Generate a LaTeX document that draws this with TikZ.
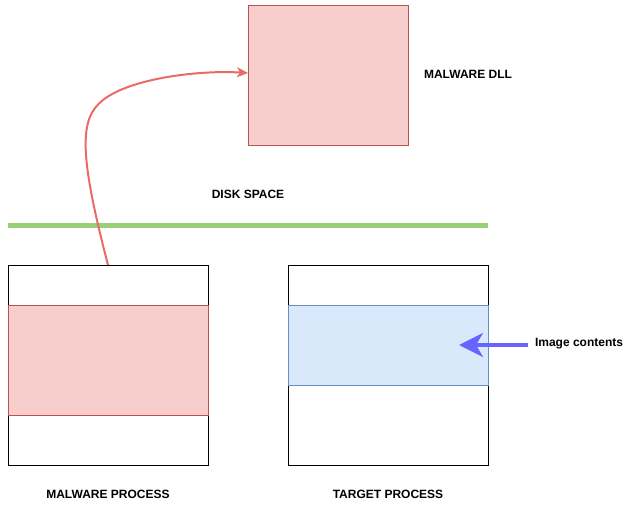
\documentclass[tikz,border=0pt]{standalone}
\usepackage{fontspec}
\setmainfont{Liberation Sans}
\usepackage{xcolor}
\usetikzlibrary{arrows.meta}
\definecolor{dllfill}{HTML}{F8CECC}
\definecolor{dlldraw}{HTML}{B85450}
\definecolor{diskline}{HTML}{97D077}
\definecolor{imgfill}{HTML}{DAE8FC}
\definecolor{imgdraw}{HTML}{6C8EBF}
\definecolor{imgarrow}{HTML}{6666FF}
\definecolor{loadline}{HTML}{EA6B66}

\begin{document}
\begin{tikzpicture}[x=1pt,y=-1pt,
    lbl/.style={font=\bfseries\fontsize{12}{14}\selectfont, inner sep=2pt},
    procbox/.style={draw=black, line width=1pt, fill=white,
        minimum width=200pt, minimum height=200pt, inner sep=0pt},
    dllbox/.style={draw=dlldraw, fill=dllfill, line width=0.8pt,
        minimum width=160pt, minimum height=140pt, inner sep=0pt},
    imgbox/.style={draw=imgdraw, fill=imgfill, line width=0.8pt,
        minimum width=200pt, inner sep=0pt},
    every node/.style={outer sep=0pt}]
    \useasboundingbox (0,0) rectangle (634,511);

    % disk
    \node[dllbox] (dll) at (328,75) {};
    \node[lbl] (dlllbl) at (468,74) {MALWARE DLL};
    \node[lbl] (disklbl) at (248,194) {DISK SPACE};
    \coordinate (diskL) at (8,225);
    \coordinate (diskR) at (488,225);
    \draw[diskline, line width=5pt] (diskL) -- (diskR);

    % memory
    \node[procbox] (mal) at (108,365) {};
    \node[dllbox, minimum width=200pt, minimum height=110pt] (malimg) at (108,360) {};
    \node[procbox] (tgt) at (388,365) {};
    \node[imgbox, minimum height=80pt] (tgtimg) at (388,345) {};
    \node[lbl] (mallbl) at (108,494) {MALWARE PROCESS};
    \node[lbl] (tgtlbl) at (388,494) {TARGET PROCESS};
    \node[lbl, anchor=west] (imglbl) at (533,344) {Image contents};
    \coordinate (imgtip) at (459,345);
    \coordinate (bend) at (103,100);

    \draw[imgarrow, line width=4pt, -{Stealth[length=24pt,width=24pt,inset=7pt]},
        shorten <=5pt] (imglbl.west |- imgtip) -- (imgtip);
    \draw[loadline, line width=2pt, -{Stealth[length=11pt,width=10pt,inset=3pt]}]
        (mal.north) .. controls +(-30,-115) and +(-23,18) .. (bend)
        .. controls +(28,-22) and +(-48,-3) .. ([yshift=2pt]dll.west);

\end{tikzpicture}
\end{document}
